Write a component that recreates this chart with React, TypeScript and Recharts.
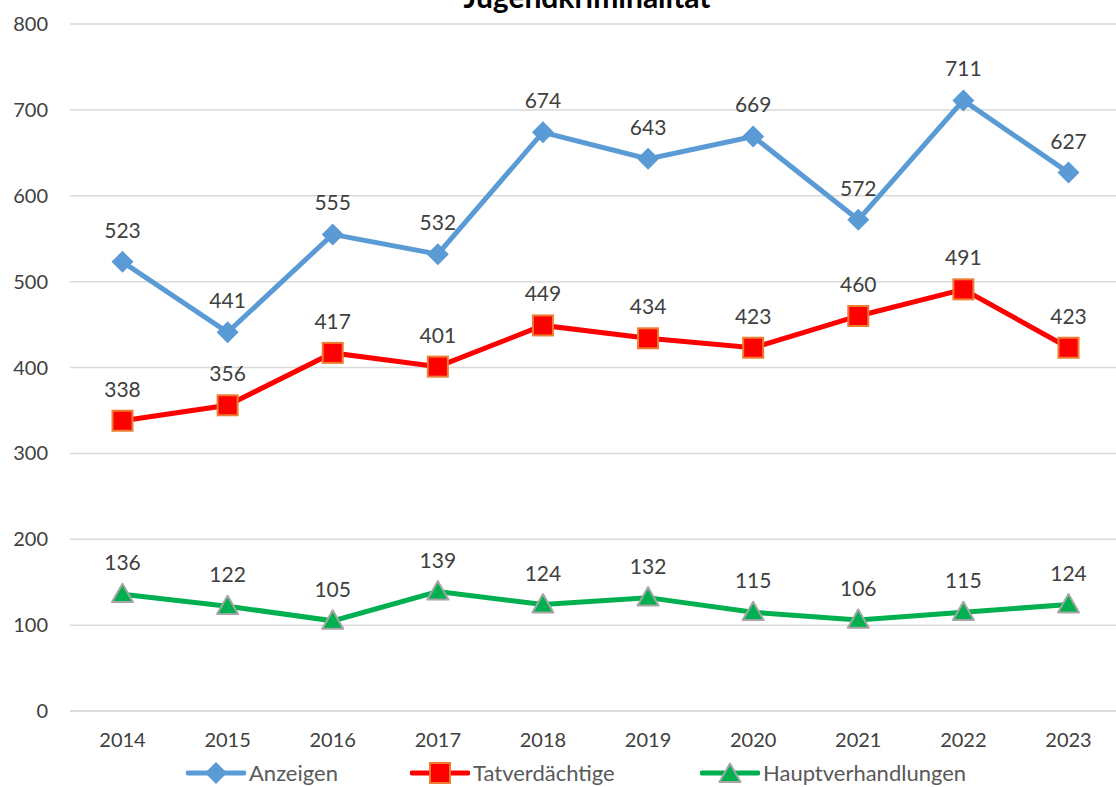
import { CartesianGrid, LabelList, Line, LineChart, XAxis, YAxis } from 'recharts';

const years = ['2014', '2015', '2016', '2017', '2018', '2019', '2020', '2021', '2022', '2023'];
const anzeigen = [523, 441, 555, 532, 674, 643, 669, 572, 711, 627];
const tatverdaechtige = [338, 356, 417, 401, 449, 434, 423, 460, 491, 423];
const hauptverhandlungen = [136, 122, 105, 139, 124, 132, 115, 106, 115, 124];
const yTicks = [0, 100, 200, 300, 400, 500, 600, 700, 800];

const data = years.map((year, i) => ({
  year,
  anzeigen: anzeigen[i],
  tatverdaechtige: tatverdaechtige[i],
  hauptverhandlungen: hauptverhandlungen[i],
}));

const FONT = 'Lato, "Noto Sans", sans-serif';
const BLUE = '#5B9BD5';
const RED = '#FF0000';
const GREEN = '#00B050';

function Diamond({ cx, cy }: any) {
  const r = 11;
  return <path d={`M${cx},${cy - r}L${cx + r},${cy}L${cx},${cy + r}L${cx - r},${cy}Z`} fill={BLUE} />;
}

function Square({ cx, cy }: any) {
  const r = 10;
  return <rect x={cx - r} y={cy - r} width={r * 2} height={r * 2} fill={RED} stroke="#ED7D31" strokeWidth={2} />;
}

function Triangle({ cx, cy }: any) {
  const r = 10.5;
  return (
    <path
      d={`M${cx},${cy - r}L${cx + r},${cy + r * 0.75}L${cx - r},${cy + r * 0.75}Z`}
      fill={GREEN}
      stroke="#A5A5A5"
      strokeWidth={2}
      strokeLinejoin="round"
    />
  );
}

const labelStyle = { fill: '#404040', fontSize: 21, fontFamily: FONT };

function LegendItem({ color, label, marker, left }: { color: string; label: string; marker: 'd' | 's' | 't'; left: number }) {
  return (
    <div style={{ position: 'absolute', left, top: 762, display: 'flex', alignItems: 'center', whiteSpace: 'nowrap' }}>
      <svg width={60} height={22}>
        <line x1={2} y1={11} x2={58} y2={11} stroke={color} strokeWidth={5} strokeLinecap="round" />
        {marker === 'd' && <Diamond cx={30} cy={11} />}
        {marker === 's' && <Square cx={30} cy={11} />}
        {marker === 't' && <Triangle cx={30} cy={12} />}
      </svg>
      <span style={{ marginLeft: 3, fontSize: 22, lineHeight: '22px', color: '#595959', fontFamily: FONT }}>{label}</span>
    </div>
  );
}

export default function App() {
  return (
    <div style={{ position: 'absolute', left: 0, top: 0, width: 1116, height: 787, overflow: 'hidden', background: '#fff' }}>
      <LineChart width={1121} height={787} data={data} margin={{ top: 24, right: 0, left: 0, bottom: 46 }}>
        <CartesianGrid vertical={false} stroke="#D9D9D9" strokeWidth={1.5} />
        <XAxis
          dataKey="year"
          padding={{ left: 52.5, right: 52.5 }}
          axisLine={{ stroke: '#D9D9D9', strokeWidth: 1.5 }}
          tickLine={false}
          tickSize={0}
          tickMargin={22}
          height={30}
          tick={{ fill: '#404040', fontSize: 20, fontFamily: FONT }}
        />
        <YAxis
          domain={[0, 800]}
          ticks={yTicks}
          width={70}
          axisLine={false}
          tickLine={false}
          tickSize={0}
          tickMargin={22}
          tick={{ fill: '#404040', fontSize: 20, fontFamily: FONT }}
        />
        <Line dataKey="anzeigen" stroke={BLUE} strokeWidth={5} dot={<Diamond />} activeDot={false} isAnimationActive={false}>
          <LabelList dataKey="anzeigen" position="top" offset={24} style={labelStyle} />
        </Line>
        <Line dataKey="tatverdaechtige" stroke={RED} strokeWidth={5} dot={<Square />} activeDot={false} isAnimationActive={false}>
          <LabelList dataKey="tatverdaechtige" position="top" offset={24} style={labelStyle} />
        </Line>
        <Line dataKey="hauptverhandlungen" stroke={GREEN} strokeWidth={5} dot={<Triangle />} activeDot={false} isAnimationActive={false}>
          <LabelList dataKey="hauptverhandlungen" position="top" offset={24} style={labelStyle} />
        </Line>
      </LineChart>
      <svg style={{ position: 'absolute', left: 0, top: 0 }} width={1116} height={30}>
        <text x={587} y={8} textAnchor="middle" fontSize={30} fontWeight="bold" fill="#000" fontFamily={FONT}>
          Jugendkriminalität
        </text>
      </svg>
      <LegendItem color={BLUE} label="Anzeigen" marker="d" left={186} />
      <LegendItem color={RED} label="Tatverdächtige" marker="s" left={410} />
      <LegendItem color={GREEN} label="Hauptverhandlungen" marker="t" left={700} />
    </div>
  );
}
